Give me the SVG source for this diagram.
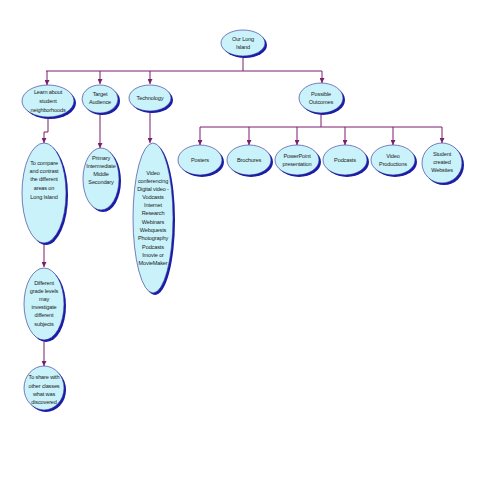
<svg xmlns="http://www.w3.org/2000/svg" width="495" height="495" viewBox="0 0 495 495">
<defs>
<marker id="ah" viewBox="0 0 10 10" refX="10" refY="5" markerWidth="5" markerHeight="5" orient="auto" markerUnits="userSpaceOnUse"><path d="M0,0 L10,5 L0,10 z" fill="#7a1f6e"/></marker>
<style>
.sh{fill:#1c1ca8}
.nd{fill:#c9f2fa;stroke:#2a2a90;stroke-width:0.6}
.t{font-family:"Liberation Sans",Arial,sans-serif;font-size:5.6px;letter-spacing:-0.15px;fill:#222;text-anchor:middle}
.c{fill:none;stroke:#7a1f6e;stroke-width:1}
</style>
</defs>
<rect width="495" height="495" fill="#fff"/>
<g id="connectors">
<path class="c" d="M243,56 V71"/>
<path class="c" d="M46,71 H322"/>
<path class="c" d="M47,71 V85" marker-end="url(#ah)"/>
<path class="c" d="M100,71 V84" marker-end="url(#ah)"/>
<path class="c" d="M150,71 V84" marker-end="url(#ah)"/>
<path class="c" d="M322,71 V83" marker-end="url(#ah)"/>
<path class="c" d="M48,117 V132 H44 V143" marker-end="url(#ah)"/>
<path class="c" d="M44,243 V267" marker-end="url(#ah)"/>
<path class="c" d="M44,341 V366" marker-end="url(#ah)"/>
<path class="c" d="M100,113 V148" marker-end="url(#ah)"/>
<path class="c" d="M150,112 V143" marker-end="url(#ah)"/>
<path class="c" d="M321,113 V127"/>
<path class="c" d="M200,127 H442"/>
<path class="c" d="M200,127 V145" marker-end="url(#ah)"/>
<path class="c" d="M249,127 V145" marker-end="url(#ah)"/>
<path class="c" d="M297,127 V145" marker-end="url(#ah)"/>
<path class="c" d="M345,127 V145" marker-end="url(#ah)"/>
<path class="c" d="M393,127 V145" marker-end="url(#ah)"/>
<path class="c" d="M442,127 V143" marker-end="url(#ah)"/>
</g>
<g id="root"><ellipse class="sh" cx="245" cy="45" rx="22" ry="13"/><ellipse class="nd" cx="243" cy="43" rx="22" ry="13"/><text class="t" x="243" y="41">Our Long</text><text class="t" x="243" y="49">Island</text></g>
<g id="learn"><ellipse class="sh" cx="50" cy="103" rx="26" ry="16"/><ellipse class="nd" cx="48" cy="101" rx="26" ry="16"/><text class="t" x="48" y="94">Learn about</text><text class="t" x="48" y="103">student</text><text class="t" x="48" y="112">neighborhoods</text></g>
<g id="target"><ellipse class="sh" cx="102" cy="101" rx="18" ry="14"/><ellipse class="nd" cx="100" cy="99" rx="18" ry="14"/><text class="t" x="100" y="96">Target</text><text class="t" x="100" y="104">Audience</text></g>
<g id="technology"><ellipse class="sh" cx="152" cy="100" rx="21" ry="13"/><ellipse class="nd" cx="150" cy="98" rx="21" ry="13"/><text class="t" x="150" y="100">Technology</text></g>
<g id="outcomes"><ellipse class="sh" cx="323" cy="100" rx="22" ry="15"/><ellipse class="nd" cx="321" cy="98" rx="22" ry="15"/><text class="t" x="321" y="96">Possible</text><text class="t" x="321" y="104">Outcomes</text></g>
<g id="compare"><ellipse class="sh" cx="46" cy="195" rx="22" ry="50"/><ellipse class="nd" cx="44" cy="193" rx="22" ry="50"/><text class="t" x="44" y="165">To compare</text><text class="t" x="44" y="173">and contrast</text><text class="t" x="44" y="181">the different</text><text class="t" x="44" y="190">areas on</text><text class="t" x="44" y="199">Long Island</text></g>
<g id="grades"><ellipse class="sh" cx="46" cy="306" rx="20" ry="36"/><ellipse class="nd" cx="44" cy="304" rx="20" ry="36"/><text class="t" x="44" y="285">Different</text><text class="t" x="44" y="293">grade levels</text><text class="t" x="44" y="301">may</text><text class="t" x="44" y="309">investigate</text><text class="t" x="44" y="317">different</text><text class="t" x="44" y="326">subjects</text></g>
<g id="share"><ellipse class="sh" cx="46" cy="390" rx="20" ry="22"/><ellipse class="nd" cx="44" cy="388" rx="20" ry="22"/><text class="t" x="44" y="379">To share with</text><text class="t" x="44" y="388">other classes</text><text class="t" x="44" y="396">what was</text><text class="t" x="44" y="404">discovered</text></g>
<g id="audience"><ellipse class="sh" cx="103" cy="181" rx="18" ry="31"/><ellipse class="nd" cx="101" cy="179" rx="18" ry="31"/><text class="t" x="101" y="160">Primary</text><text class="t" x="101" y="168">Intermediate</text><text class="t" x="101" y="176">Middle</text><text class="t" x="101" y="184">Secondary</text></g>
<g id="tools"><ellipse class="sh" cx="155" cy="220" rx="20" ry="75"/><ellipse class="nd" cx="153" cy="218" rx="20" ry="75"/><text class="t" x="153" y="175">Video</text><text class="t" x="153" y="183">conferencing</text><text class="t" x="153" y="191">Digital video -</text><text class="t" x="153" y="199">Vodcasts</text><text class="t" x="153" y="207">Internet</text><text class="t" x="153" y="215">Research</text><text class="t" x="153" y="224">Webinars</text><text class="t" x="153" y="232">Webquests</text><text class="t" x="153" y="240">Photography</text><text class="t" x="153" y="249">Podcasts</text><text class="t" x="153" y="257">Imovie or</text><text class="t" x="153" y="265">MovieMaker</text></g>
<g id="posters"><ellipse class="sh" cx="202" cy="162" rx="22" ry="15"/><ellipse class="nd" cx="200" cy="160" rx="22" ry="15"/><text class="t" x="200" y="162">Posters</text></g>
<g id="brochures"><ellipse class="sh" cx="251" cy="162" rx="22" ry="15"/><ellipse class="nd" cx="249" cy="160" rx="22" ry="15"/><text class="t" x="249" y="162">Brochures</text></g>
<g id="powerpoint"><ellipse class="sh" cx="299" cy="162" rx="22" ry="15"/><ellipse class="nd" cx="297" cy="160" rx="22" ry="15"/><text class="t" x="297" y="158">PowerPoint</text><text class="t" x="297" y="166">presentation</text></g>
<g id="podcasts"><ellipse class="sh" cx="347" cy="162" rx="22" ry="15"/><ellipse class="nd" cx="345" cy="160" rx="22" ry="15"/><text class="t" x="345" y="162">Podcasts</text></g>
<g id="video"><ellipse class="sh" cx="395" cy="162" rx="22" ry="15"/><ellipse class="nd" cx="393" cy="160" rx="22" ry="15"/><text class="t" x="393" y="158">Video</text><text class="t" x="393" y="166">Productions</text></g>
<g id="websites"><ellipse class="sh" cx="444" cy="165" rx="20" ry="20"/><ellipse class="nd" cx="442" cy="163" rx="20" ry="20"/><text class="t" x="442" y="156">Student</text><text class="t" x="442" y="164">created</text><text class="t" x="442" y="172">Websites</text></g>
</svg>
